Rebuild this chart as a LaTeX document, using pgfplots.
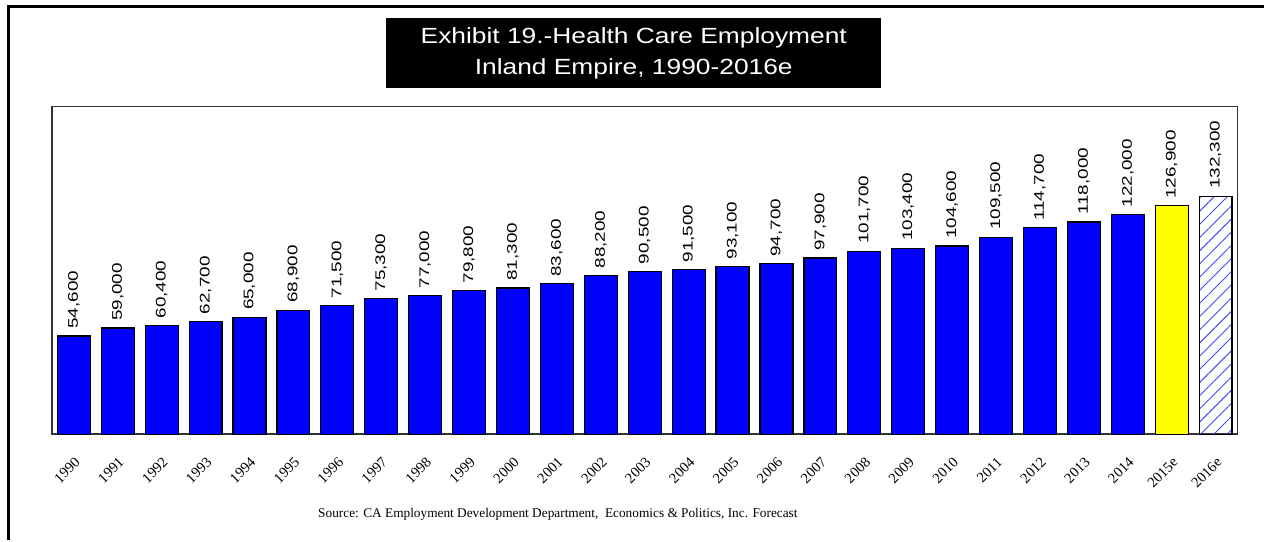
\documentclass[border=0pt]{standalone}
\usepackage{fontspec}
\setmainfont{Liberation Sans}
\newfontfamily\timesf{Liberation Serif}
\newfontfamily\titlef[FakeStretch=1.2]{Liberation Sans}
\newfontfamily\labelf[FakeStretch=1.35]{Liberation Sans}
\usepackage{pgfplots}
\pgfplotsset{compat=1.18}
\usetikzlibrary{patterns.meta}
\definecolor{barblue}{RGB}{0,0,255}
\definecolor{baryellow}{RGB}{255,255,0}
\definecolor{hatchblue}{RGB}{70,70,255}
\pgfplotstableread{
x y
0 54600
1 59000
2 60400
3 62700
4 65000
5 68900
6 71500
7 75300
8 77000
9 79800
10 81300
11 83600
12 88200
13 90500
14 91500
15 93100
16 94700
17 97900
18 101700
19 103400
20 104600
21 109500
22 114700
23 118000
24 122000
}\bluedata
\begin{document}
\begin{tikzpicture}
\begin{scope}[x=0.75pt,y=-0.75pt]
\path (0,0) rectangle (1265,541);
\draw[line width=2.25pt] (9,541) -- (9,7) -- (1266,7);
\fill[black] (387,18) rectangle (883,88);
\node[text=white, align=center, font=\titlef\fontsize{16.5}{23.25}\selectfont] at (635,53) {Exhibit 19.-Health Care Employment\\Inland Empire, 1990-2016e};
\node[font=\timesf\fontsize{10}{12}\selectfont] at (559,515) {Source: CA Employment Development Department,\ \ Economics \& Politics, Inc. Forecast};
\end{scope}
\begin{axis}[
  at={(39pt,-326.25pt)}, anchor=south west,
  width=891pt, height=246pt, scale only axis,
  xmin=-0.5, xmax=26.5, ymin=0, ymax=182000,
  ybar, bar width=24.75pt,
  axis line style={line width=1pt, black!80},
  xtick={0,...,26},
  xticklabels={1990,1991,1992,1993,1994,1995,1996,1997,1998,1999,2000,2001,2002,2003,2004,2005,2006,2007,2008,2009,2010,2011,2012,2013,2014,2015e,2016e},
  ytick=\empty, major tick length=0pt,
  xticklabel style={xshift=0pt, yshift=-16.5pt, rotate=45, anchor=north east, inner sep=0pt, font=\timesf\fontsize{11}{12}\selectfont},
  nodes near coords={\pgfmathprintnumber[fixed,precision=0,1000 sep={,},assume math mode=true]{\pgfplotspointmeta}},
  every node near coord/.append style={rotate=90, anchor=west, font=\labelf\fontsize{10.5}{12}\selectfont, inner sep=5pt},
  clip=false,
]
\addplot[fill=barblue, draw=black, line width=0.9pt, bar shift=0pt] table {\bluedata};
\addplot[fill=baryellow, draw=black, line width=0.9pt, bar shift=0pt] coordinates {(25,126900)};
\addplot[pattern={Lines[angle=45,distance=7pt,line width=0.7pt]}, pattern color=hatchblue, draw=black, line width=0.9pt, bar shift=0pt] coordinates {(26,132300)};
\end{axis}
\end{tikzpicture}
\end{document}
